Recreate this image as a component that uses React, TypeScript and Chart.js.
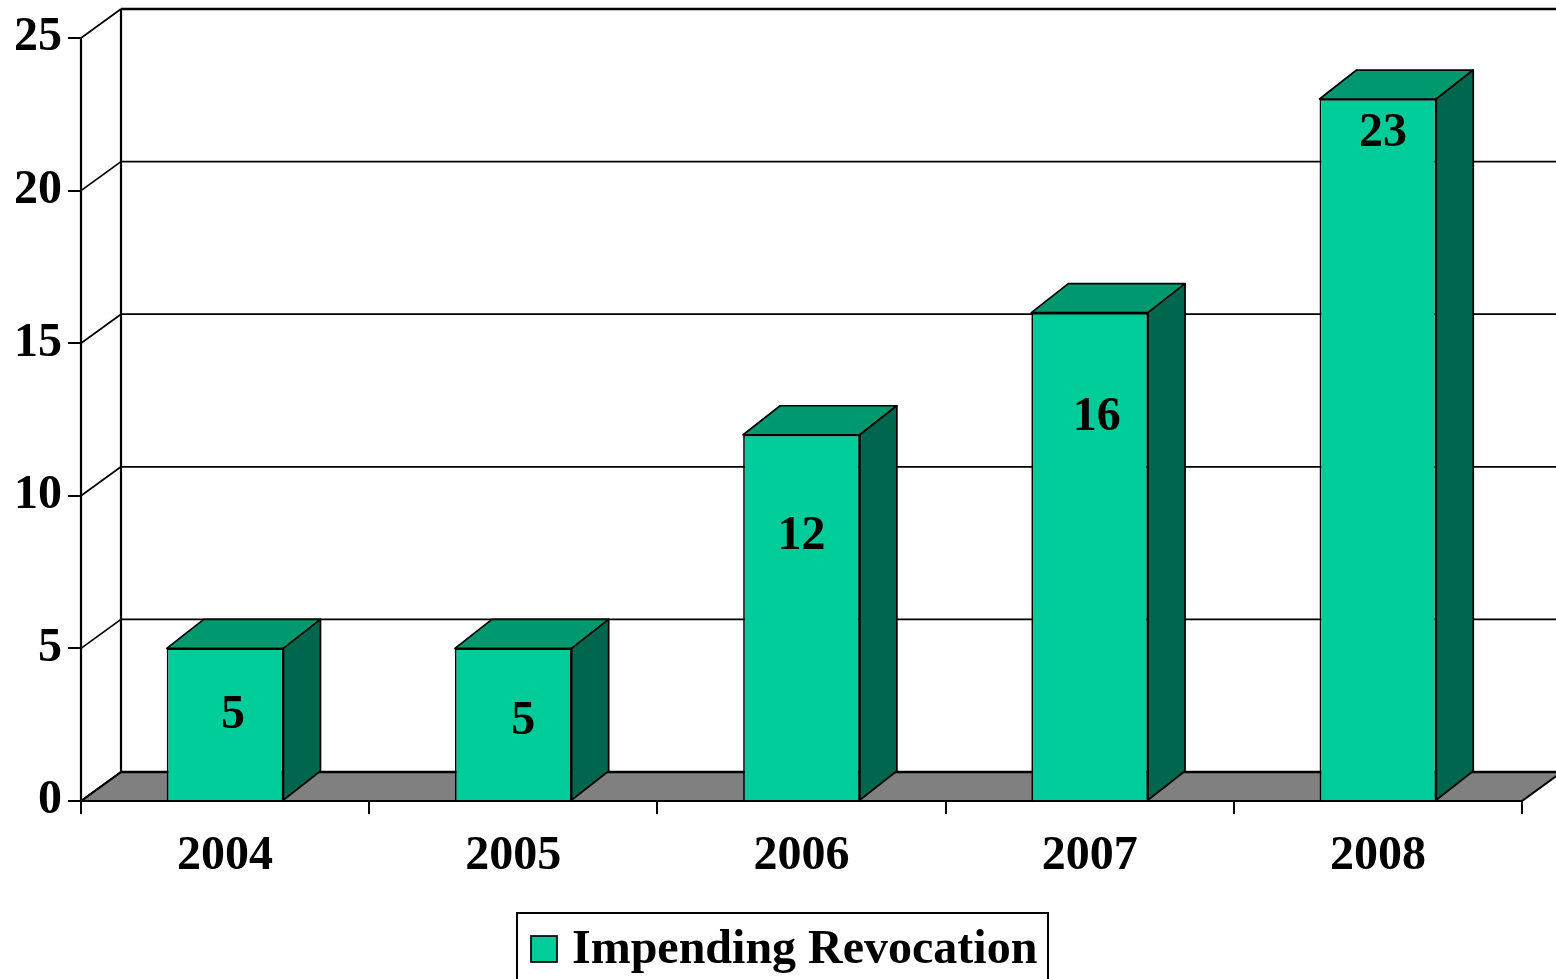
import React, { useEffect, useRef } from "react";
import { Chart, registerables } from "chart.js";

Chart.register(...registerables);

const categories = ["2004", "2005", "2006", "2007", "2008"];
const revocations = [5, 5, 12, 16, 23];
const yTickValues = [0, 5, 10, 15, 20, 25];
const seriesLabel = "Impending Revocation";

const FRONT = "#00CC99";
const TOP = "#00996F";
const SIDE = "#00664D";
const FLOOR = "#808080";
const FONT = "'Liberation Serif', 'Times New Roman', serif";

const threeD = {
  id: "threeD",
  beforeDatasetsDraw(chart: any, _args: any, opts: any) {
    const { ctx, chartArea } = chart;
    const ys = chart.scales.y;
    const W = chart.width;
    const dx = opts.wallDx, dy = opts.wallDy;
    ctx.save();
    const yb = ys.getPixelForValue(0);
    ctx.beginPath();
    ctx.moveTo(chartArea.left, yb);
    ctx.lineTo(chartArea.left + dx, yb + dy);
    ctx.lineTo(chartArea.right + dx, yb + dy);
    ctx.lineTo(chartArea.right, yb);
    ctx.closePath();
    ctx.fillStyle = FLOOR;
    ctx.fill();
    ctx.strokeStyle = "#000";
    ctx.lineWidth = 2;
    ctx.stroke();
    yTickValues.forEach((v) => {
      const y = ys.getPixelForValue(v);
      ctx.lineWidth = v === 0 || v === 25 ? 2.5 : 1.7;
      ctx.beginPath();
      ctx.moveTo(chartArea.left + dx, y + dy);
      ctx.lineTo(W, y + dy);
      ctx.stroke();
      ctx.lineWidth = 1.7;
      ctx.beginPath();
      ctx.moveTo(chartArea.left, y);
      ctx.lineTo(chartArea.left + dx, y + dy);
      ctx.stroke();
    });
    ctx.lineWidth = 2.2;
    ctx.beginPath();
    ctx.moveTo(chartArea.left + dx, ys.getPixelForValue(25) + dy);
    ctx.lineTo(chartArea.left + dx, yb + dy);
    ctx.stroke();
    ctx.beginPath();
    ctx.moveTo(chartArea.left, ys.getPixelForValue(25));
    ctx.lineTo(chartArea.left, yb);
    ctx.lineTo(chartArea.right, yb);
    ctx.stroke();
    ctx.restore();
  },
  afterDatasetsDraw(chart: any, _args: any, opts: any) {
    const { ctx } = chart;
    const meta = chart.getDatasetMeta(0);
    const dx = opts.barDx, dy = opts.barDy;
    ctx.save();
    ctx.strokeStyle = "#000";
    ctx.lineWidth = 1.7;
    ctx.lineJoin = "round";
    meta.data.forEach((bar: any, i: number) => {
      const { x, y, base, width } = bar.getProps(["x", "y", "base", "width"], true);
      const l = x - width / 2, r = x + width / 2;
      ctx.beginPath();
      ctx.moveTo(l, y);
      ctx.lineTo(l + dx, y + dy);
      ctx.lineTo(r + dx, y + dy);
      ctx.lineTo(r, y);
      ctx.closePath();
      ctx.fillStyle = TOP;
      ctx.fill();
      ctx.stroke();
      ctx.beginPath();
      ctx.moveTo(r, y);
      ctx.lineTo(r + dx, y + dy);
      ctx.lineTo(r + dx, base + dy);
      ctx.lineTo(r, base);
      ctx.closePath();
      ctx.fillStyle = SIDE;
      ctx.fill();
      ctx.stroke();
      const v = chart.data.datasets[0].data[i];
      ctx.fillStyle = "#000";
      ctx.font = `bold 48px ${FONT}`;
      ctx.textAlign = "center";
      ctx.textBaseline = "middle";
      ctx.fillText(String(v), x + opts.labelDx[i], y + opts.labelDrop[i]);
    });
    ctx.restore();
  },
  afterDraw(chart: any, _args: any, opts: any) {
    const { ctx } = chart;
    ctx.save();
    const L = opts.legend;
    ctx.strokeStyle = "#000";
    ctx.lineWidth = 2;
    ctx.strokeRect(L.x, L.y, L.w, L.h);
    ctx.fillStyle = FRONT;
    ctx.fillRect(L.x + 14, L.y + 23, 26, 26);
    ctx.lineWidth = 1.7;
    ctx.strokeRect(L.x + 14, L.y + 23, 26, 26);
    ctx.fillStyle = "#000";
    ctx.font = `bold 48px ${FONT}`;
    ctx.textAlign = "left";
    ctx.textBaseline = "middle";
    ctx.fillText(chart.data.datasets[0].label, L.x + 55, L.y + 38);
    ctx.restore();
  },
};

export default function App() {
  const ref = useRef<HTMLCanvasElement>(null);
  useEffect(() => {
    document.body.style.margin = "0";
    const chart = new Chart(ref.current!, {
      type: "bar",
      data: {
        labels: categories,
        datasets: [
          {
            label: seriesLabel,
            data: revocations,
            backgroundColor: FRONT,
            borderColor: "#000",
            borderWidth: 1.7,
            categoryPercentage: 1,
            barPercentage: 0.405,
          },
        ],
      },
      options: {
        responsive: false,
        animation: false,
        devicePixelRatio: 1,
        layout: { padding: { top: 38, right: 34, left: 0, bottom: 0 } },
        plugins: {
          legend: { display: false },
          tooltip: { enabled: false },
          threeD: {
            wallDx: 40,
            wallDy: -29,
            barDx: 37,
            barDy: -29,
            labelDrop: [67, 73, 102, 105, 35],
            labelDx: [8, 10, 0, 7, 5],
            legend: { x: 517, y: 913, w: 531, h: 90 },
          },
        } as any,
        scales: {
          x: {
            grid: { offset: true, drawOnChartArea: false, drawTicks: true, tickLength: 13, color: "#000", lineWidth: 2 },
            border: { display: true, color: "#000", width: 2 },
            ticks: { color: "#000", padding: 14, font: { family: FONT, size: 48, weight: "bold" } },
            afterFit: (s: any) => { s.height = 178; },
          },
          y: {
            min: 0,
            max: 25,
            grid: { drawOnChartArea: false, drawTicks: true, tickLength: 13, color: "#000", lineWidth: 2 },
            border: { display: true, color: "#000", width: 2 },
            ticks: { stepSize: 5, color: "#000", padding: 6, font: { family: FONT, size: 48, weight: "bold" } },
            afterFit: (s: any) => { s.width = 81; },
          },
        },
      },
      plugins: [threeD],
    });
    return () => chart.destroy();
  }, []);
  return (
    <div style={{ position: "absolute", left: 0, top: 0, width: 1556, height: 979, background: "#fff" }}>
      <canvas ref={ref} width={1556} height={979} style={{ display: "block" }} />
    </div>
  );
}
